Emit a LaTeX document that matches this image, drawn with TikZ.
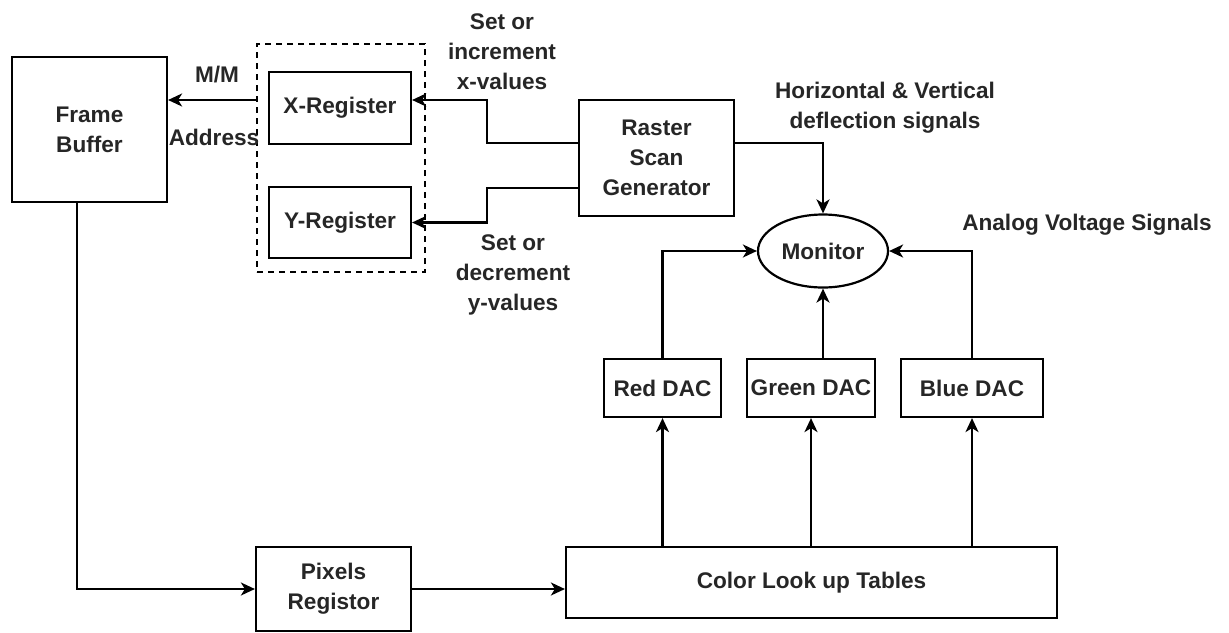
\documentclass[tikz,border=0pt]{standalone}
\usepackage{fontspec}
\setmainfont{Liberation Sans}
\usetikzlibrary{arrows.meta,shapes.geometric}

\begin{document}
\begin{tikzpicture}[x=0.5pt,y=-0.5pt,line width=1.1pt,
  >={Stealth[length=7pt,width=6.5pt,inset=2pt]},
  every node/.style={font=\fontsize{11.3}{15}\selectfont\bfseries,text=black!85,align=center,inner sep=0pt},
  box/.style={draw,rectangle}]
\useasboundingbox (0,0) rectangle (1229,632);
\node[box,minimum width=77.5pt,minimum height=72.5pt](fb) at (89.5,129.5){Frame\\Buffer};
\node[draw,dash pattern=on 3pt off 2.5pt,minimum width=84pt,minimum height=114pt](grp) at (341,158){};
\node[box,minimum width=71pt,minimum height=36pt](xreg) at (340,108){X-Register};
\node[box,minimum width=71pt,minimum height=35.5pt](yreg) at (340,222.5){Y-Register};
\node[box,minimum width=77.5pt,minimum height=58pt](raster) at (656.5,158){Raster\\Scan\\Generator};
\node[draw,ellipse,minimum width=65pt,minimum height=36.5pt](mon) at (823,251){Monitor};
\node[box,minimum width=58.5pt,minimum height=29pt](red) at (662.5,388){Red DAC};
\node[box,minimum width=64pt,minimum height=29pt](green) at (811,388){Green DAC};
\node[box,minimum width=71pt,minimum height=29pt](blue) at (972,388){Blue DAC};
\node[box,minimum width=77.5pt,minimum height=42pt](pix) at (333.5,589){Pixels\\Registor};
\node[box,minimum width=245.5pt,minimum height=35.5pt](clut) at (811.5,582.5){Color Look up Tables};
\node(mm) at (217,75){M/M};
\node(addr) at (214,137){Address};
\node(setx) at (502,52){Set or\\increment\\x-values};
\node(sety) at (513,275){Set or\\decrement\\y-values};
\node(hv) at (885,108){Horizontal \& Vertical\\deflection signals};
\node(avs) at (1087,225){Analog Voltage Signals};
\coordinate (xin) at ([yshift=4pt]xreg.east);
\draw[->] (grp.west |- xin) -- (fb.east |- xin);
\draw[->] ([yshift=7.5pt]raster.west) -- ++(-91,0) |- (xin);
\draw[->] ([yshift=-15pt]raster.west) -- ++(-91,0) |- (yreg.east);
\draw[->] ([yshift=7.5pt]raster.east) -| (mon.north);
\draw[->] (red.north) |- (mon.west);
\draw[->] (green.north -| mon.south) -- (mon.south);
\draw[->] (blue.north) |- (mon.east);
\foreach \d in {red,green,blue} {\draw[->] (clut.north -| \d.south) -- (\d.south);}
\draw[->] ([xshift=-6.25pt]fb.south) |- (pix.west);
\draw[->] (pix.east) -- (pix.east -| clut.west);
\end{tikzpicture}
\end{document}
